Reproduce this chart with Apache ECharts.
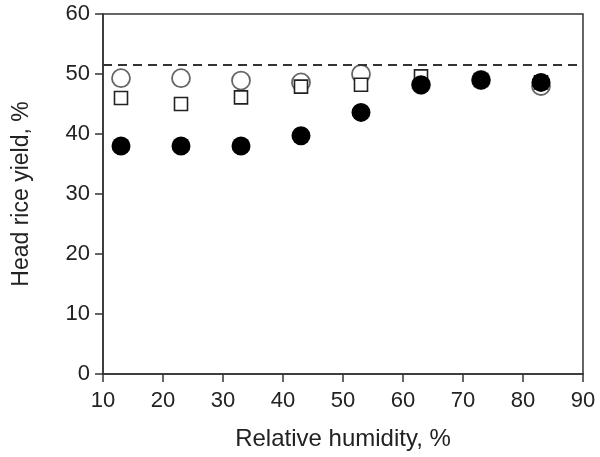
<!DOCTYPE html>
<html><head><meta charset="utf-8">
<script src="https://cdn.jsdelivr.net/npm/echarts@6/dist/echarts.min.js"></script>
<style>html,body{margin:0;padding:0;background:#fff}#c{width:600px;height:457px}</style>
</head><body><div id="c"></div>
<script>
const humidity = [13, 23, 33, 43, 53, 63, 73, 83];
const openCircle = [49.3, 49.3, 48.9, 48.6, 50.0, 48.2, 49.0, 48.0];
const openSquare = [46.0, 45.0, 46.1, 47.9, 48.2, 49.6, 49.0, 48.6];
const filledCircle = [38.0, 38.0, 38.0, 39.7, 43.6, 48.2, 49.0, 48.6];
const referenceLine = 51.5;
const xTicks = [10, 20, 30, 40, 50, 60, 70, 80, 90];
const yTicks = [0, 10, 20, 30, 40, 50, 60];

const pair = (ys) => humidity.map((x, i) => [x, ys[i]]);
const font = 'Liberation Sans, Arial, sans-serif';
const axisCol = '#333';

const chart = echarts.init(document.getElementById('c'));
chart.setOption({
  animation: false,
  grid: {left: 103, top: 14, right: 17, bottom: 83, show: true, borderColor: axisCol, borderWidth: 1.5},
  xAxis: {
    type: 'value', min: xTicks[0], max: xTicks[xTicks.length - 1], interval: 10,
    name: 'Relative humidity, %', nameLocation: 'middle', nameGap: 53,
    nameTextStyle: {fontFamily: font, fontSize: 24, color: '#222'},
    axisLine: {show: true, onZero: false, lineStyle: {color: axisCol, width: 1.5}},
    axisTick: {show: true, inside: false, length: 8, lineStyle: {color: axisCol, width: 1.5}},
    axisLabel: {fontFamily: font, fontSize: 22, color: '#222', margin: 16},
    splitLine: {show: false}
  },
  yAxis: {
    type: 'value', min: yTicks[0], max: yTicks[yTicks.length - 1], interval: 10,
    name: 'Head rice yield, %', nameLocation: 'middle', nameGap: 70,
    nameTextStyle: {fontFamily: font, fontSize: 23, color: '#222'},
    axisLine: {show: true, onZero: false, lineStyle: {color: axisCol, width: 1.5}},
    axisTick: {show: true, inside: false, length: 8, lineStyle: {color: axisCol, width: 1.5}},
    axisLabel: {fontFamily: font, fontSize: 22, color: '#222', margin: 13},
    splitLine: {show: false}
  },
  series: [
    {
      type: 'scatter', data: pair(openCircle), symbol: 'circle', symbolSize: 18,
      itemStyle: {color: '#fff', borderColor: '#666', borderWidth: 1.8, opacity: 1},
      markLine: {
        silent: true, symbol: ['none', 'none'], label: {show: false},
        lineStyle: {color: '#333', type: [9, 6], width: 2},
        data: [{yAxis: referenceLine}]
      }
    },
    {
      type: 'scatter', data: pair(openSquare), symbol: 'rect', symbolSize: 13,
      itemStyle: {color: '#fff', borderColor: '#222', borderWidth: 1.6, opacity: 1}
    },
    {
      type: 'scatter', data: pair(filledCircle), symbol: 'circle', symbolSize: 19,
      itemStyle: {color: '#000', borderWidth: 0, opacity: 1}
    }
  ]
});
</script></body></html>
